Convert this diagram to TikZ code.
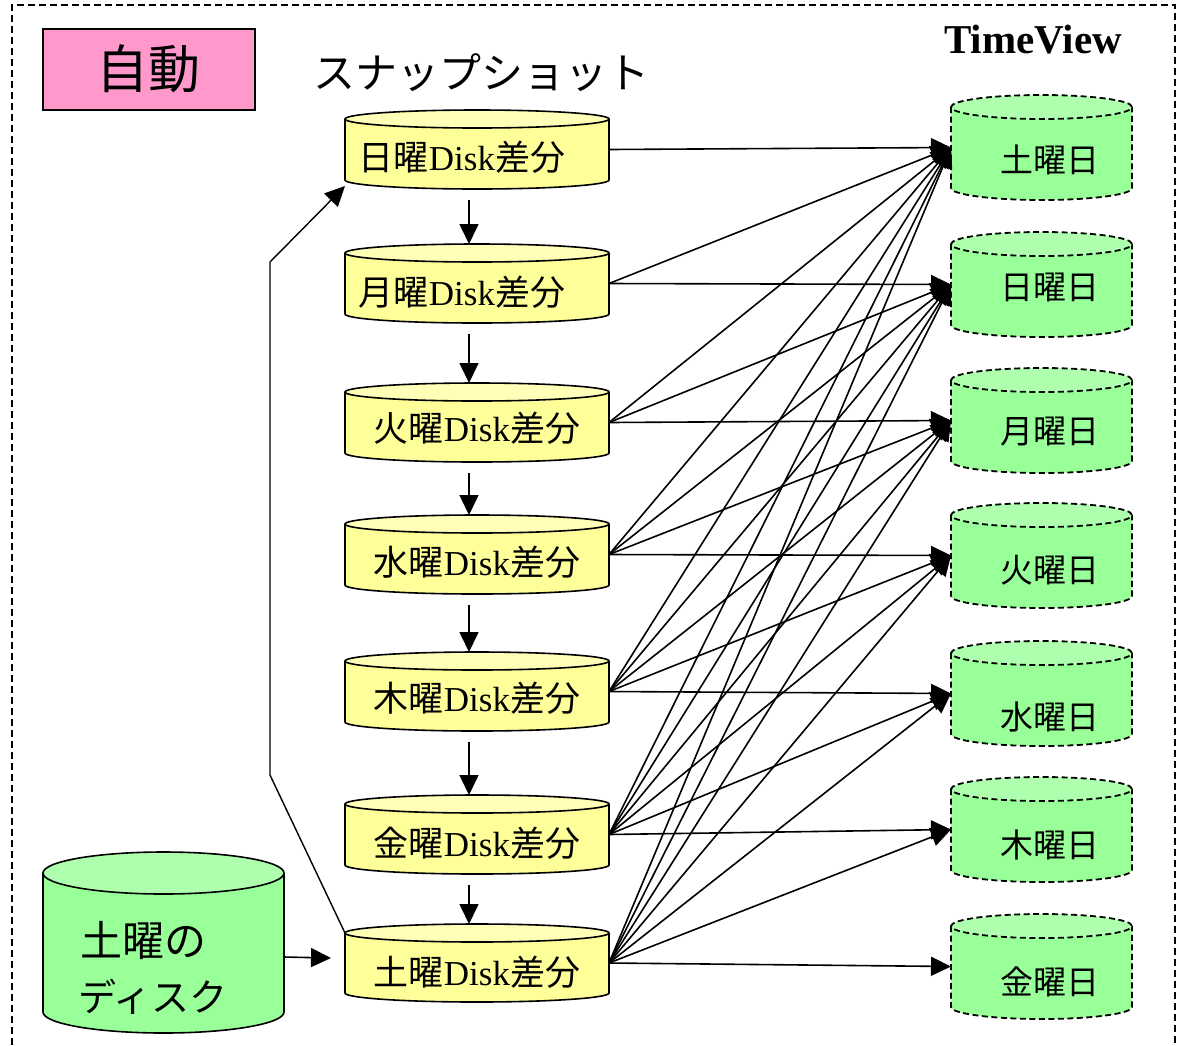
\documentclass[tikz,border=0pt]{standalone}
\usepackage{fontspec}
\setmainfont{Liberation Serif}
\newfontfamily\jp{Noto Sans CJK JP}
\usetikzlibrary{arrows.meta}
\definecolor{ybody}{HTML}{FFFF99}
\definecolor{ytopc}{HTML}{FFFFB8}
\definecolor{gbody}{HTML}{99FF99}
\definecolor{gtopc}{HTML}{AEFFAE}
\definecolor{pinkfill}{HTML}{FF99CC}
\tikzset{
  cylbox/.style={inner sep=0pt, outer sep=0pt, draw=none},
  ybodys/.style={fill=ybody, draw=black, line width=1.6pt},
  ytops/.style={fill=ytopc, draw=black, line width=1.6pt},
  gbodys/.style={fill=gbody, draw=black, line width=1.8pt, dash pattern=on 6pt off 3.5pt},
  gtops/.style={fill=gtopc, draw=black, line width=1.8pt, dash pattern=on 6pt off 3.5pt},
  bigbody/.style={fill=gbody, draw=black, line width=1.6pt},
  bigtop/.style={fill=gtopc, draw=black, line width=1.6pt},
  slabel/.style={font=\fontsize{35}{40}\selectfont, inner sep=0pt},
  tlabel/.style={font=\jp\fontsize{33}{40}\selectfont, inner sep=0pt, anchor=east},
  arr/.style={line width=1.6pt, -{Triangle[length=20pt,width=19pt]}},
  frame/.style={line width=1.5pt, dash pattern=on 7pt off 4pt}
}
% name, cx, ytop, ybot, hw, ry, body style, top style
\newcommand\cyl[8]{%
  \node[cylbox, minimum width={2*#5}, minimum height={#4-#3}] (#1) at (#2,{-(#3+#4)/2}) {};
  \path[#7] (#1.north west) -- (#1.south west)
     arc[start angle=180, end angle=360, x radius=#5pt, y radius=#6pt] -- (#1.north east);
  \path[#8] (#2,-#3) ellipse[x radius=#5pt, y radius=#6pt];
}
\begin{document}
\begin{tikzpicture}[x=1pt,y=1pt]
\useasboundingbox (0,0) rectangle (1180,-1045);
\fill[white] (0,0) rectangle (1180,-1045);
% dashed frame
\draw[frame] (12,-1045) -- (12,-5) -- (1175,-5) -- (1175,-1045);
% title box
\node[draw=black, line width=1.5pt, fill=pinkfill, minimum width=212, minimum height=81,
      anchor=north west, inner sep=0pt, font=\jp\fontsize{52}{58}\selectfont] (auto) at (42,-28) {自動};
\node[font=\jp\fontsize{42}{48}\selectfont, inner sep=0pt] (snap) at (481,-73) {スナップショット};
\node[font=\bfseries\fontsize{41}{46}\selectfont, inner sep=0pt] (tv) at (1033,-40) {TimeView};
% snapshot cylinders
\cyl{s0}{477}{119}{180}{132}{9}{ybodys}{ytops}
\cyl{s1}{477}{253}{314}{132}{9}{ybodys}{ytops}
\cyl{s2}{477}{392}{453}{132}{9}{ybodys}{ytops}
\cyl{s3}{477}{524}{585}{132}{9}{ybodys}{ytops}
\cyl{s4}{477}{661}{722}{132}{9}{ybodys}{ytops}
\cyl{s5}{477}{804}{865}{132}{9}{ybodys}{ytops}
\cyl{s6}{477}{933}{993}{132}{9}{ybodys}{ytops}
\node[slabel] (s0l) at (462,-157) {{\jp 日曜}Disk{\jp 差分}};
\node[slabel] (s1l) at (462,-292) {{\jp 月曜}Disk{\jp 差分}};
\node[slabel] (s2l) at (477,-428) {{\jp 火曜}Disk{\jp 差分}};
\node[slabel] (s3l) at (477,-562) {{\jp 水曜}Disk{\jp 差分}};
\node[slabel] (s4l) at (477,-698) {{\jp 木曜}Disk{\jp 差分}};
\node[slabel] (s5l) at (477,-843) {{\jp 金曜}Disk{\jp 差分}};
\node[slabel] (s6l) at (477,-972) {{\jp 土曜}Disk{\jp 差分}};
% TimeView cylinders
\cyl{t0}{1041.5}{107}{188}{90.5}{12}{gbodys}{gtops}
\cyl{t1}{1041.5}{244}{325}{90.5}{12}{gbodys}{gtops}
\cyl{t2}{1041.5}{380}{461}{90.5}{12}{gbodys}{gtops}
\cyl{t3}{1041.5}{515}{596}{90.5}{12}{gbodys}{gtops}
\cyl{t4}{1041.5}{653}{734}{90.5}{12}{gbodys}{gtops}
\cyl{t5}{1041.5}{789}{870}{90.5}{12}{gbodys}{gtops}
\cyl{t6}{1041.5}{926}{1007}{90.5}{12}{gbodys}{gtops}
\node[tlabel] (t0l) at (1100,-160) {土曜日};
\node[tlabel] (t1l) at (1100,-287) {日曜日};
\node[tlabel] (t2l) at (1100,-432) {月曜日};
\node[tlabel] (t3l) at (1100,-570) {火曜日};
\node[tlabel] (t4l) at (1100,-717) {水曜日};
\node[tlabel] (t5l) at (1100,-845) {木曜日};
\node[tlabel] (t6l) at (1100,-982) {金曜日};
% big disk
\cyl{big}{163.5}{873}{1012}{120.5}{21}{bigbody}{bigtop}
\node[font=\jp\fontsize{42}{46}\selectfont, inner sep=0pt, anchor=west] (bigl1) at (80,-940) {土曜の};
\node[font=\jp\fontsize{38}{46}\selectfont, inner sep=0pt, anchor=west] (bigl2) at (78,-997) {ディスク};
% vertical arrows between snapshots
\foreach \a/\b in {s0/s1,s1/s2,s2/s3,s3/s4,s4/s5,s5/s6}
  \draw[arr] ([xshift=-8pt,yshift=-20pt]\a.south) -- ([xshift=-8pt,yshift=9pt]\b.north);
% loop arrow
\coordinate (l1) at (270,-775);
\coordinate (l2) at (270,-262);
\draw[arr, line width=1.4pt] (s6.north west) -- (l1) -- (l2) -- ([yshift=-6pt]s0.south west);
% big disk to Saturday diff
\draw[arr] (big.east |- 0,-957) -- ([xshift=-14pt,yshift=5pt]s6.west);
% snapshot to TimeView
\foreach \i in {0,...,6}
  \foreach \j in {0,...,\i}
    \draw[arr] (s\i.east) -- (t\j.west);
\end{tikzpicture}
\end{document}
